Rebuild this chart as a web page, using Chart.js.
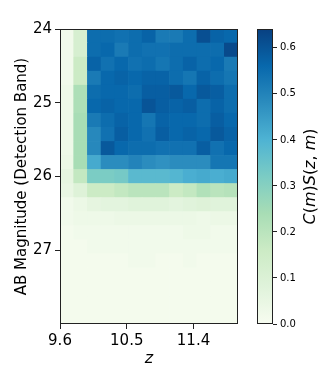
<!DOCTYPE html>
<html>
<head>
<meta charset="utf-8">
<script src="https://cdn.jsdelivr.net/npm/chart.js@4.4.1/dist/chart.umd.min.js"></script>
<style>
    html, body { margin: 0; padding: 0; background: #fff; }
    #wrap { position: relative; width: 329px; height: 367px; }
    #heat { position: absolute; left: 0; top: 0; }
    #cbar { position: absolute; left: 250px; top: 0; }
</style>
</head>
<body>
<div id="wrap">
    <canvas id="heat" width="250" height="367"></canvas>
    <canvas id="cbar" width="79" height="367"></canvas>
</div>
<script>
// grid: redshift bins (columns) and magnitude bins (rows, 24 at the top)
const zRange = [9.6, 12.0];
const zBinCount = 13;
const magRange = [24, 28];
const magBinCount = 21;

// tick labels
const zTicks = [9.6, 10.5, 11.4];
const magTicks = [24, 25, 26, 27];
const cbarTicks = [0.0, 0.1, 0.2, 0.3, 0.4, 0.5, 0.6];
const vmax = 0.641;

// C(m)S(z,m), one row per magnitude bin
const csRows = [
    [0.02, 0.12, 0.55, 0.55, 0.54, 0.55, 0.57, 0.52, 0.52, 0.55, 0.61, 0.57, 0.56],
    [0.02, 0.12, 0.55, 0.56, 0.52, 0.55, 0.54, 0.54, 0.55, 0.55, 0.55, 0.55, 0.62],
    [0.02, 0.16, 0.57, 0.54, 0.56, 0.54, 0.55, 0.53, 0.55, 0.57, 0.55, 0.56, 0.52],
    [0.02, 0.16, 0.52, 0.56, 0.57, 0.56, 0.57, 0.57, 0.55, 0.53, 0.57, 0.55, 0.53],
    [0.03, 0.23, 0.55, 0.56, 0.56, 0.55, 0.58, 0.58, 0.59, 0.56, 0.59, 0.58, 0.55],
    [0.03, 0.23, 0.56, 0.57, 0.56, 0.56, 0.60, 0.58, 0.57, 0.58, 0.55, 0.57, 0.55],
    [0.03, 0.24, 0.52, 0.55, 0.57, 0.56, 0.53, 0.57, 0.56, 0.56, 0.55, 0.58, 0.56],
    [0.03, 0.24, 0.49, 0.54, 0.58, 0.56, 0.54, 0.58, 0.56, 0.57, 0.56, 0.59, 0.57],
    [0.03, 0.24, 0.49, 0.59, 0.56, 0.55, 0.55, 0.54, 0.54, 0.54, 0.58, 0.54, 0.56],
    [0.04, 0.24, 0.42, 0.48, 0.48, 0.50, 0.48, 0.47, 0.48, 0.48, 0.48, 0.53, 0.53],
    [0.06, 0.18, 0.32, 0.32, 0.33, 0.38, 0.38, 0.38, 0.39, 0.41, 0.42, 0.41, 0.42],
    [0.05, 0.09, 0.16, 0.16, 0.18, 0.20, 0.20, 0.20, 0.16, 0.18, 0.22, 0.20, 0.21],
    [0.02, 0.04, 0.06, 0.07, 0.07, 0.08, 0.08, 0.08, 0.07, 0.08, 0.09, 0.08, 0.08],
    [0.02, 0.03, 0.03, 0.03, 0.04, 0.04, 0.04, 0.04, 0.04, 0.04, 0.03, 0.04, 0.04],
    [0.01, 0.02, 0.02, 0.02, 0.02, 0.02, 0.02, 0.02, 0.02, 0.03, 0.03, 0.02, 0.02],
    [0.01, 0.01, 0.02, 0.02, 0.02, 0.02, 0.02, 0.02, 0.02, 0.02, 0.02, 0.02, 0.02],
    [0.01, 0.01, 0.01, 0.01, 0.01, 0.02, 0.02, 0.01, 0.01, 0.02, 0.01, 0.01, 0.01],
    [0.01, 0.01, 0.01, 0.01, 0.01, 0.01, 0.01, 0.01, 0.01, 0.01, 0.01, 0.01, 0.01],
    [0.01, 0.01, 0.01, 0.01, 0.01, 0.01, 0.01, 0.01, 0.01, 0.01, 0.01, 0.01, 0.01],
    [0.01, 0.01, 0.01, 0.01, 0.01, 0.01, 0.01, 0.01, 0.01, 0.01, 0.01, 0.01, 0.01],
    [0.01, 0.01, 0.01, 0.01, 0.01, 0.01, 0.01, 0.01, 0.01, 0.01, 0.01, 0.01, 0.01]
];

// matplotlib GnBu
const gnbuStops = ['#f7fcf0', '#e0f3db', '#ccebc5', '#a8ddb5', '#7bccc4', '#4eb3d3', '#2b8cbe', '#0868ac', '#084081'];

function hexToRgb(h) {
    return [1, 3, 5].map(i => parseInt(h.slice(i, i + 2), 16));
}

function gnbu(t) {
    t = Math.max(0, Math.min(1, t)) * (gnbuStops.length - 1);
    const i = Math.min(Math.floor(t), gnbuStops.length - 2);
    const f = t - i;
    const a = hexToRgb(gnbuStops[i]);
    const b = hexToRgb(gnbuStops[i + 1]);
    const c = a.map((v, k) => Math.round(v + (b[k] - v) * f));
    return `rgb(${c[0]}, ${c[1]}, ${c[2]})`;
}

function edges(range, n) {
    const out = [];
    for (let i = 0; i <= n; i++) out.push(range[0] + (range[1] - range[0]) * i / n);
    return out;
}

const zEdges = edges(zRange, zBinCount);
const magEdges = edges(magRange, magBinCount);

const cells = [];
const cellColors = [];
csRows.forEach((row, i) => {
    row.forEach((v, j) => {
        cells.push({ x: (zEdges[j] + zEdges[j + 1]) / 2, y: [magEdges[i], magEdges[i + 1]] });
        cellColors.push(gnbu(v / vmax));
    });
});

Chart.defaults.font.family = '"DejaVu Sans", sans-serif';
Chart.defaults.color = '#000';

// box around the plot area
const framePlugin = {
    id: 'frame',
    afterDraw(chart) {
        const { ctx, chartArea: a } = chart;
        const l = Math.round(a.left) + 0.5, t = Math.round(a.top) + 0.5;
        const r = Math.round(a.right) - 0.5, b = Math.round(a.bottom) - 0.5;
        ctx.save();
        ctx.strokeStyle = '#222';
        ctx.lineWidth = 1;
        ctx.strokeRect(l, t, r - l, b - t);
        ctx.restore();
    }
};

new Chart(document.getElementById('heat'), {
    type: 'bar',
    data: {
        datasets: [{
            data: cells,
            backgroundColor: cellColors,
            borderWidth: 0,
            barPercentage: 1,
            categoryPercentage: 1
        }]
    },
    options: {
        responsive: false,
        animation: false,
        events: [],
        layout: { padding: { top: 29, right: 12, left: 0, bottom: 0 } },
        plugins: { legend: { display: false }, tooltip: { enabled: false } },
        scales: {
            x: {
                type: 'linear',
                min: zRange[0],
                max: zRange[1],
                offset: false,
                afterFit: (s) => { s.height = 43; },
                afterBuildTicks: (s) => { s.ticks = zTicks.map(v => ({ value: v })); },
                border: { display: false },
                grid: { offset: false, drawOnChartArea: false, tickLength: 5, color: '#222' },
                ticks: { font: { size: 15 }, padding: 3, maxRotation: 0, callback: (v) => v.toFixed(1) },
                title: { display: true, text: 'z', font: { size: 16, style: 'italic', lineHeight: 1 }, padding: 0 }
            },
            y: {
                type: 'linear',
                reverse: true,
                min: magRange[0],
                max: magRange[1],
                afterFit: (s) => { s.width = 60; },
                afterBuildTicks: (s) => { s.ticks = magTicks.map(v => ({ value: v })); },
                border: { display: false },
                grid: { drawOnChartArea: false, tickLength: 5, color: '#222' },
                ticks: { font: { size: 15 }, padding: 3, callback: (v) => String(v) },
                title: { display: true, text: 'AB Magnitude (Detection Band)', font: { size: 15, lineHeight: 1 }, padding: { top: 15, bottom: 0 } }
            }
        }
    },
    plugins: [framePlugin]
});

// colour bar label written like matplotlib mathtext
const cbarLabel = [['C', 1], ['(', 0], ['m', 1], [')', 0], ['S', 1], ['(', 0], ['z', 1], [', ', 0], ['m', 1], [')', 0]];
const labelPlugin = {
    id: 'cbarLabel',
    afterDraw(chart) {
        const { ctx, chartArea: a } = chart;
        const size = 16;
        const fontFor = (it) => (it ? 'italic ' : '') + size + 'px "DejaVu Sans"';
        ctx.save();
        let total = 0;
        cbarLabel.forEach(([s, it]) => { ctx.font = fontFor(it); total += ctx.measureText(s).width; });
        ctx.translate(61, (a.top + a.bottom) / 2);
        ctx.rotate(-Math.PI / 2);
        ctx.textBaseline = 'middle';
        ctx.fillStyle = '#000';
        let x = -total / 2;
        cbarLabel.forEach(([s, it]) => {
            ctx.font = fontFor(it);
            ctx.fillText(s, x, 0);
            x += ctx.measureText(s).width;
        });
        ctx.restore();
    }
};

new Chart(document.getElementById('cbar'), {
    type: 'bar',
    data: {
        labels: ['cbar'],
        datasets: [{
            data: [[0, vmax]],
            borderWidth: 0,
            barPercentage: 1,
            categoryPercentage: 1,
            backgroundColor: (ctx) => {
                const { chart } = ctx;
                if (!chart.chartArea) return gnbuStops[4];
                const ys = chart.scales.y;
                const g = chart.ctx.createLinearGradient(0, ys.getPixelForValue(0), 0, ys.getPixelForValue(vmax));
                gnbuStops.forEach((c, k) => g.addColorStop(k / (gnbuStops.length - 1), c));
                return g;
            }
        }]
    },
    options: {
        responsive: false,
        animation: false,
        events: [],
        layout: { padding: { top: 29, left: 7, right: 0, bottom: 43 } },
        plugins: { legend: { display: false }, tooltip: { enabled: false } },
        scales: {
            x: { display: false },
            y: {
                position: 'right',
                min: 0,
                max: vmax,
                afterFit: (s) => { s.width = 56; },
                afterBuildTicks: (s) => { s.ticks = cbarTicks.map(v => ({ value: v })); },
                border: { display: false },
                grid: { drawOnChartArea: false, tickLength: 4, color: '#222' },
                ticks: { font: { size: 10 }, padding: 3, callback: (v) => v.toFixed(1) }
            }
        }
    },
    plugins: [framePlugin, labelPlugin]
});
</script>
</body>
</html>
